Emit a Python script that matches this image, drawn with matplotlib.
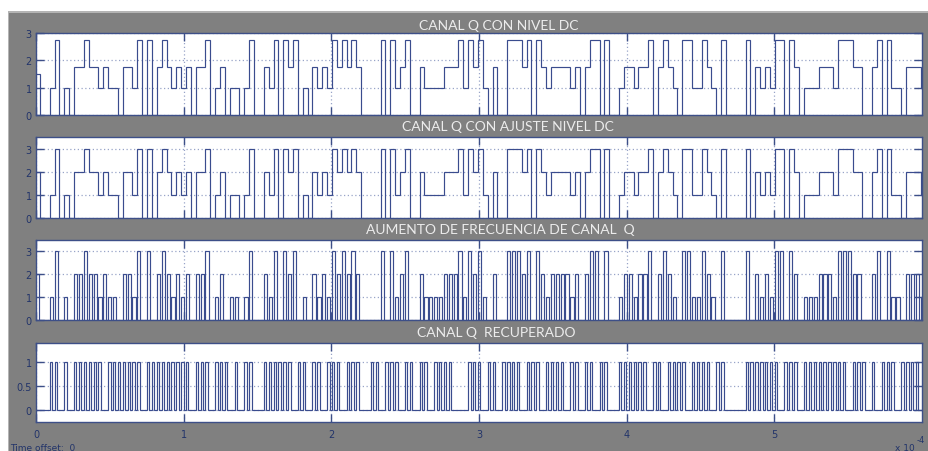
import matplotlib
matplotlib.use("Agg")
import matplotlib.pyplot as plt
from matplotlib.patches import Rectangle

# ---- data -------------------------------------------------------------
# 4-level symbols of the Q channel (one per symbol period)
start_symbol = 2
symbols = [
    0, 0, 1, 3, 0, 1, 0, 2, 2, 3,
    2, 2, 1, 2, 1, 1, 0, 2, 2, 1,
    3, 0, 3, 0, 2, 3, 2, 1, 2, 1,
    2, 0, 2, 2, 3, 0, 1, 2, 0, 1,
    1, 0, 1, 3, 0, 0, 2, 1, 3, 0,
    3, 2, 3, 0, 1, 0, 2, 1, 2, 1,
    3, 2, 3, 2, 3, 2, 0, 0, 0, 0,
    3, 0, 3, 1, 2, 3, 0, 0, 2, 1,
    1, 1, 1, 2, 2, 2, 3, 1, 3, 2,
    3, 1, 0, 2, 0, 0, 3, 3, 3, 2,
    3, 0, 3, 2, 1, 2, 2, 2, 2, 1,
    2, 0, 2, 3, 3, 0, 3, 0, 0, 1,
    2, 2, 1, 2, 2, 3, 0, 2, 3, 2,
    1, 0, 3, 3, 1, 1, 3, 2, 1, 0,
    3, 0, 0, 0, 0, 3, 0, 2, 1, 2,
    1, 3, 3, 0, 3, 2, 0, 1, 1, 1,
    2, 2, 2, 1, 3, 3, 3, 2, 2, 0,
    0, 2, 3, 0, 3, 1, 1, 0, 2, 2,
    2, 1,
]
# DC-shifted amplitude used for each symbol in the first trace
dc_levels = [0.0, 1.0, 1.75, 2.75]
dc_start = 1.5

# recovered binary Q channel (one bit slot per symbol period)
q_bits = [
    0, 0, 1, 1, 0, 1, 0, 1, 1, 1,
    1, 1, 1, 0, 1, 1, 1, 1, 1, 1,
    1, 0, 1, 1, 1, 1, 1, 1, 1, 1,
    1, 0, 1, 1, 1, 0, 1, 1, 1, 0,
    1, 0, 1, 1, 0, 0, 1, 1, 1, 1,
    1, 1, 0, 1, 1, 0, 1, 1, 0, 1,
    1, 1, 0, 1, 1, 1, 0, 0, 1, 1,
    0, 1, 1, 1, 0, 1, 1, 0, 1, 1,
    0, 1, 1, 1, 1, 0, 0, 0, 1, 1,
    1, 0, 1, 1, 0, 1, 1, 1, 1, 0,
    1, 1, 1, 0, 1, 1, 1, 1, 0, 1,
    1, 0, 1, 1, 0, 1, 1, 0, 0, 1,
    1, 1, 1, 1, 1, 0, 1, 1, 0, 1,
    1, 1, 1, 0, 1, 1, 1, 1, 0, 1,
    1, 0, 0, 0, 0, 1, 1, 1, 1, 1,
    1, 1, 0, 1, 1, 1, 0, 1, 1, 1,
    1, 1, 1, 1, 1, 1, 0, 1, 1, 1,
    0, 1, 0, 1, 1, 1, 0, 1, 1, 1,
    1, 0,
]

titles = [
    "CANAL Q CON NIVEL DC",
    "CANAL Q CON AJUSTE NIVEL DC",
    "AUMENTO DE FRECUENCIA DE CANAL  Q",
    "CANAL Q  RECUPERADO",
]
y_limits = [(0, 3), (0, 3.5), (0, 3.5), (-0.25, 1.39)]
y_ticks = [[0, 1, 2, 3], [0, 1, 2, 3], [0, 1, 2, 3], [0, 0.5, 1]]
y_ticklabels = [["0", "1", "2", "3"], ["0", "1", "2", "3"],
                ["0", "1", "2", "3"], ["0", "0.5", "1"]]
x_ticks = [0, 1, 2, 3, 4, 5]
x_ticklabels = ["0", "1", "2", "3", "4", "5"]

# ---- timing (x axis in units of 1e-4 s) -------------------------------
T0 = 0.0271      # start of the first whole symbol
TS = 0.03295     # symbol period
X_MAX = 6.0
PULSE_DUTY = 0.65
BIT_DUTY = 0.5

# ---- style ------------------------------------------------------------
W, H = 929, 452
BG = "#808080"
LINE = "#3a4c8e"
FRAME = "#3d4f88"
LABEL = "#22346a"
GRID = "#98a4c8"

fig = plt.figure(figsize=(W / 100, H / 100), dpi=100, facecolor=BG)

# white margin above and to the left of the scope window
fig.patches.append(Rectangle((0, 1 - 12 / H), 1, 12 / H, transform=fig.transFigure,
                             facecolor="white", edgecolor="none", zorder=0))
fig.patches.append(Rectangle((0, 0), 8 / W, 1, transform=fig.transFigure,
                             facecolor="white", edgecolor="none", zorder=0))
fig.patches.append(Rectangle((8 / W, 1 - 14 / H), 1 - 8 / W, 2 / H, transform=fig.transFigure,
                             facecolor="#b4b4b4", edgecolor="none", zorder=0))
fig.patches.append(Rectangle((8 / W, 0), 1.5 / W, 1 - 12 / H, transform=fig.transFigure,
                             facecolor="#b4b4b4", edgecolor="none", zorder=0))

# axes boxes in pixels: (top, bottom)
boxes = [(34, 116), (138, 219), (240.7, 320.7), (344, 423.3)]
X_LEFT, X_RIGHT = 36, 922
title_pos = [(499, 26), (508, 127), (500, 230), (496, 333)]

axes = []
for (top, bot) in boxes:
    ax = fig.add_axes([X_LEFT / W, 1 - bot / H, (X_RIGHT - X_LEFT) / W, (bot - top) / H])
    axes.append(ax)

edges = [0.0] + [T0 + k * TS for k in range(len(symbols) + 1)]
LW = 0.85

# trace 1: symbols with DC level
vals1 = [dc_start] + [dc_levels[s] for s in symbols]
axes[0].stairs(vals1, edges, baseline=None, color=LINE, lw=LW)

# trace 2: symbols after DC adjustment
vals2 = [start_symbol] + list(symbols)
axes[1].stairs(vals2, edges, baseline=None, color=LINE, lw=LW)

# trace 3: symbols as short pulses at the higher rate
e3, v3 = [0.0], []
first_end = min(PULSE_DUTY * TS, T0)
e3 += [first_end, T0]
v3 += [start_symbol, 0]
for k, s in enumerate(symbols):
    t = T0 + k * TS
    e3 += [t + PULSE_DUTY * TS, t + TS]
    v3 += [s, 0]
axes[2].stairs(v3, e3, baseline=None, color=LINE, lw=LW)

# trace 4: recovered bits
e4, v4 = [0.0, T0], [0]
for k, b in enumerate(q_bits):
    t = T0 + k * TS
    e4 += [t + BIT_DUTY * TS, t + TS]
    v4 += [b, 0]
axes[3].stairs(v4, e4, baseline=None, color=LINE, lw=LW)

for i, ax in enumerate(axes):
    ax.set_facecolor("white")
    ax.set_xlim(0, X_MAX)
    ax.set_ylim(*y_limits[i])
    ax.set_yticks(y_ticks[i])
    ax.set_yticklabels(y_ticklabels[i])
    ax.set_xticks(x_ticks)
    ax.set_xticklabels(x_ticklabels if i == 3 else [])
    ax.grid(True, color=GRID, linestyle=(0, (1, 2)), lw=0.9)
    ax.set_axisbelow(True)
    for sp in ax.spines.values():
        sp.set_color(FRAME)
        sp.set_linewidth(1.0)
    ax.tick_params(direction="in", length=6, width=1.0, color=FRAME,
                   labelcolor=LABEL, labelsize=7, pad=3,
                   top=True, right=True)
    ax.tick_params(axis="x", pad=5)
    cx, cy = title_pos[i]
    fig.text(cx / W, 1 - cy / H, titles[i], ha="center", va="center",
             color="#ececec", fontsize=10, family="Lato")

fig.text(10 / W, 1 - 449 / H, "Time offset:  0", ha="left", va="center",
         color=LABEL, fontsize=6.5)
fig.text(915 / W, 1 - 449 / H, "x 10", ha="right", va="center",
         color=LABEL, fontsize=6.5)
fig.text(917 / W, 1 - 441 / H, "-4", ha="left", va="center",
         color=LABEL, fontsize=6)

fig.savefig("out.png", dpi=100, facecolor=BG)
